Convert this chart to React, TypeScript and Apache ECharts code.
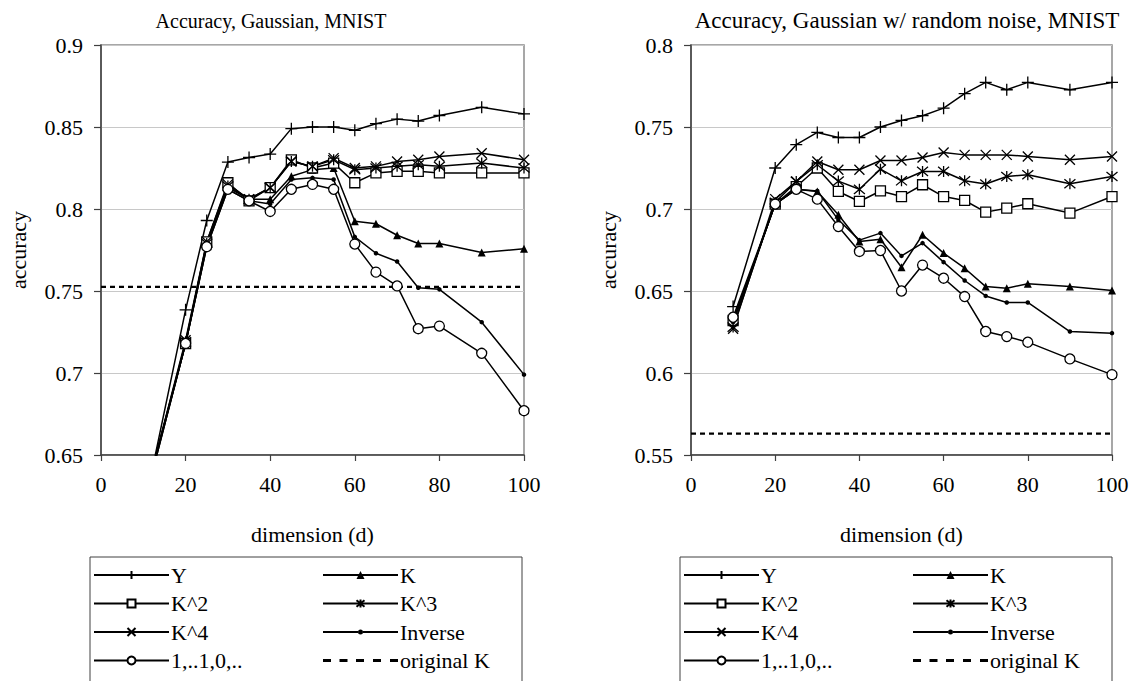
import React, { useEffect, useRef } from "react";
import * as echarts from "echarts";

const FONT = '"Liberation Serif", "Times New Roman", serif';

// x values (dimension d)
const dims = [10, 20, 25, 30, 35, 40, 45, 50, 55, 60, 65, 70, 75, 80, 90, 100];

// Left chart: Accuracy, Gaussian, MNIST
const gY = [0.615, 0.7385, 0.793, 0.8286, 0.8314, 0.8335, 0.849, 0.85, 0.85, 0.848, 0.852, 0.8548, 0.8536, 0.857, 0.862, 0.858];
const gK = [0.62, 0.718, 0.778, 0.813, 0.806, 0.806, 0.82, 0.824, 0.825, 0.7925, 0.791, 0.784, 0.779, 0.779, 0.7735, 0.7757];
const gK2 = [0.618, 0.718, 0.78, 0.816, 0.805, 0.813, 0.83, 0.825, 0.828, 0.816, 0.822, 0.823, 0.823, 0.822, 0.822, 0.822];
const gK3 = [0.62, 0.719, 0.779, 0.814, 0.806, 0.813, 0.829, 0.826, 0.83, 0.824, 0.825, 0.826, 0.827, 0.826, 0.828, 0.825];
const gK4 = [0.62, 0.72, 0.78, 0.815, 0.806, 0.813, 0.829, 0.826, 0.831, 0.825, 0.826, 0.829, 0.83, 0.832, 0.834, 0.83];
const gInv = [0.62, 0.718, 0.777, 0.812, 0.805, 0.803, 0.818, 0.819, 0.818, 0.783, 0.773, 0.768, 0.752, 0.751, 0.731, 0.699];
const gStep = [0.618, 0.718, 0.777, 0.812, 0.805, 0.7985, 0.812, 0.815, 0.812, 0.7786, 0.7615, 0.7531, 0.727, 0.7286, 0.712, 0.677];
const gOrig = 0.7525;

// Right chart: Accuracy, Gaussian w/ random noise, MNIST
const nY = [0.6405, 0.725, 0.7392, 0.7467, 0.7436, 0.7436, 0.75, 0.754, 0.7569, 0.7615, 0.7703, 0.7772, 0.7727, 0.7772, 0.7727, 0.7772];
const nK = [0.631, 0.703, 0.7121, 0.7107, 0.6965, 0.6802, 0.6816, 0.6645, 0.6843, 0.6731, 0.6639, 0.6527, 0.6517, 0.6544, 0.6527, 0.6503];
const nK2 = [0.632, 0.703, 0.7136, 0.725, 0.7107, 0.7046, 0.711, 0.7076, 0.7148, 0.7076, 0.7052, 0.6981, 0.7005, 0.7032, 0.6975, 0.7076];
const nK3 = [0.628, 0.704, 0.7168, 0.727, 0.717, 0.712, 0.7243, 0.7172, 0.7229, 0.7229, 0.7172, 0.7152, 0.7198, 0.7209, 0.7154, 0.7198];
const nK4 = [0.627, 0.706, 0.7168, 0.729, 0.7239, 0.7239, 0.7296, 0.7296, 0.7314, 0.7345, 0.733, 0.733, 0.733, 0.732, 0.73, 0.732];
const nInv = [0.631, 0.703, 0.712, 0.711, 0.6934, 0.681, 0.6853, 0.6714, 0.6792, 0.6676, 0.6564, 0.647, 0.643, 0.643, 0.6253, 0.6243];
const nStep = [0.634, 0.703, 0.712, 0.706, 0.6893, 0.6741, 0.6747, 0.65, 0.6658, 0.6578, 0.6466, 0.6253, 0.6222, 0.6188, 0.6086, 0.599];
const nOrig = 0.563;

const titles = ["Accuracy, Gaussian, MNIST", "Accuracy, Gaussian w/ random noise, MNIST"];
const xTicks = { min: 0, max: 100, interval: 20 };
const yRanges = [
  { min: 0.65, max: 0.9, interval: 0.05 },
  { min: 0.55, max: 0.8, interval: 0.05 },
];
const legendCol1 = ["Y", "K^2", "K^4", "1,..1,0,.."];
const legendCol2 = ["K", "K^3", "Inverse", "original K"];

const SYM_PLUS = "path://M0,6L12,6M6,0L6,12";
const SYM_CROSS = "path://M0,0L10,10M10,0L0,10";
const SYM_STAR = "path://M0,0L10,10M10,0L0,10M5,-1L5,11";
const ICON_DASH = "path://M0,0h8v3h-8z M16.5,0h8v3h-8z M33,0h8v3h-8z M50,0h8v3h-8z M67,0h8v3h-8z";
const ICON_DOTLINE = "path://M0,2h35v2h-35z M40,2h35v2h-35z M35,3a2.5,2.5 0 1,1 5,0a2.5,2.5 0 1,1 -5,0z";

type Style = { symbol: string; size: number; fill: string; bw: number };
const styles: Record<string, Style> = {
  Y: { symbol: SYM_PLUS, size: 12, fill: "#000", bw: 1.3 },
  K: { symbol: "triangle", size: 8, fill: "#000", bw: 0 },
  "K^2": { symbol: "rect", size: 10, fill: "#fff", bw: 1.3 },
  "K^3": { symbol: SYM_STAR, size: 11, fill: "#000", bw: 1.3 },
  "K^4": { symbol: SYM_CROSS, size: 10, fill: "#000", bw: 1.3 },
  Inverse: { symbol: "circle", size: 4.5, fill: "#000", bw: 0 },
  "1,..1,0,..": { symbol: "circle", size: 10, fill: "#fff", bw: 1.3 },
};

function lineSeries(name: string, vals: number[], gi: number) {
  const s = styles[name];
  return {
    type: "line",
    name,
    xAxisIndex: gi,
    yAxisIndex: gi,
    data: dims.map((d, i) => [d, vals[i]]),
    symbol: s.symbol,
    symbolSize: s.size,
    lineStyle: { color: "#000", width: 1.5 },
    itemStyle: { color: s.fill, borderColor: "#000", borderWidth: s.bw },
    emphasis: { disabled: true },
    clip: true,
  };
}

function origSeries(v: number, gi: number) {
  return {
    type: "line",
    name: "original K",
    xAxisIndex: gi,
    yAxisIndex: gi,
    data: [
      [xTicks.min, v],
      [xTicks.max, v],
    ],
    symbol: "none",
    lineStyle: { color: "#000", width: 2.2, type: [5, 4] },
    itemStyle: { color: "#000" },
    emphasis: { disabled: true },
  };
}

const fmt = (v: number) => String(Number(v.toFixed(2)));

function axesFor(gi: number) {
  const axisLine = { show: true, lineStyle: { color: "#404040", width: 1.5 } };
  const x = {
    type: "value",
    gridIndex: gi,
    ...xTicks,
    name: "dimension (d)",
    nameLocation: "middle",
    nameGap: 68,
    nameTextStyle: { fontFamily: FONT, fontSize: 22, color: "#000" },
    axisLine,
    axisTick: { show: true, length: 6, lineStyle: { color: "#404040", width: 1.2 } },
    axisLabel: { fontFamily: FONT, fontSize: 22, color: "#000", margin: 18 },
    splitLine: { show: false },
  };
  const y = {
    type: "value",
    gridIndex: gi,
    ...yRanges[gi],
    name: "accuracy",
    nameLocation: "middle",
    nameGap: 72,
    nameTextStyle: { fontFamily: FONT, fontSize: 22, color: "#000" },
    axisLine,
    axisTick: { show: true, length: 7, lineStyle: { color: "#404040", width: 1.2 } },
    axisLabel: { fontFamily: FONT, fontSize: 22, color: "#000", margin: 18, formatter: fmt },
    splitLine: { show: true, lineStyle: { color: "#c8c8c8", width: 1 } },
  };
  return { x, y };
}

function legendItem(n: string) {
  if (n === "original K") return { name: n, icon: ICON_DASH, itemStyle: { color: "#000" } };
  if (n === "Inverse") return { name: n, icon: ICON_DOTLINE, itemStyle: { color: "#000", borderWidth: 0 } };
  return n;
}

function legendCol(left: number, data: string[]) {
  return {
    orient: "vertical",
    left,
    top: 557,
    itemWidth: 75,
    itemHeight: 10,
    itemGap: 2.5,
    selectedMode: false,
    data: data.map(legendItem),
    textStyle: { fontFamily: FONT, fontSize: 22, color: "#000", lineHeight: 26, padding: [0, 0, 0, -3] },
  };
}

export default function App() {
  const ref = useRef<HTMLDivElement>(null);
  useEffect(() => {
    if (!ref.current) return;
    const chart = echarts.init(ref.current, null, { renderer: "svg" });
    const a0 = axesFor(0);
    const a1 = axesFor(1);
    const titleStyle = (size: number) => ({ fontFamily: FONT, fontSize: size, fontWeight: "normal", color: "#000" });
    const option = {
      animation: false,
      backgroundColor: "#fff",
      title: [
        { text: titles[0], left: 266, top: 6, textAlign: "center", textStyle: titleStyle(20) },
        { text: titles[1], left: 902, top: 4, textAlign: "center", textStyle: titleStyle(23) },
      ],
      grid: [
        { left: 101, top: 45, width: 423, height: 410, show: true, borderColor: "#8a8a8a", borderWidth: 1.5, backgroundColor: "transparent" },
        { left: 691, top: 45, width: 421, height: 410, show: true, borderColor: "#8a8a8a", borderWidth: 1.5, backgroundColor: "transparent" },
      ],
      xAxis: [a0.x, a1.x],
      yAxis: [a0.y, a1.y],
      legend: [legendCol(88, legendCol1), legendCol(317, legendCol2), legendCol(678, legendCol1), legendCol(907, legendCol2)],
      graphic: [
        { type: "rect", shape: { x: 90, y: 557, width: 432, height: 140 }, style: { fill: "none", stroke: "#404040", lineWidth: 1 }, silent: true },
        { type: "rect", shape: { x: 680, y: 557, width: 432, height: 140 }, style: { fill: "none", stroke: "#404040", lineWidth: 1 }, silent: true },
      ],
      series: [
        origSeries(gOrig, 0),
        lineSeries("Y", gY, 0),
        lineSeries("K", gK, 0),
        lineSeries("K^2", gK2, 0),
        lineSeries("K^3", gK3, 0),
        lineSeries("K^4", gK4, 0),
        lineSeries("Inverse", gInv, 0),
        lineSeries("1,..1,0,..", gStep, 0),
        origSeries(nOrig, 1),
        lineSeries("Y", nY, 1),
        lineSeries("K", nK, 1),
        lineSeries("K^2", nK2, 1),
        lineSeries("K^3", nK3, 1),
        lineSeries("K^4", nK4, 1),
        lineSeries("Inverse", nInv, 1),
        lineSeries("1,..1,0,..", nStep, 1),
      ],
    };
    chart.setOption(option as any);
    return () => chart.dispose();
  }, []);
  return <div ref={ref} style={{ position: "fixed", left: 0, top: 0, width: 1133, height: 681 }} />;
}
